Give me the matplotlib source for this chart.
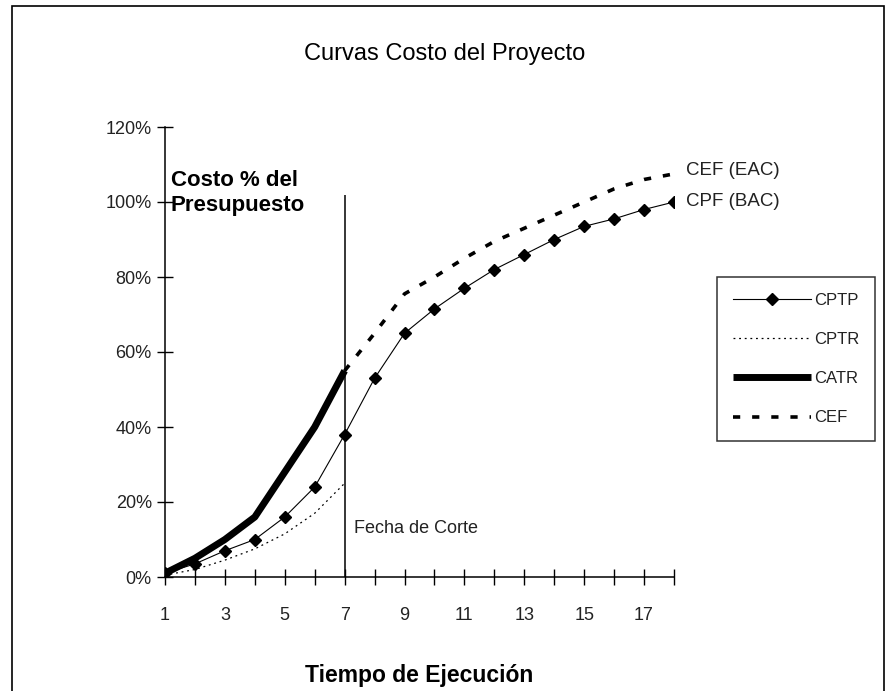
import matplotlib
matplotlib.use("Agg")
import matplotlib.pyplot as plt
from matplotlib.patches import Rectangle

plt.rcParams['font.family'] = ['Liberation Sans', 'DejaVu Sans']

# ---- data ----
periods = list(range(1, 19))
cptp = [0.01, 0.035, 0.07, 0.10, 0.16, 0.24, 0.38, 0.53, 0.65, 0.715, 0.77, 0.82, 0.86, 0.90, 0.935, 0.955, 0.98, 1.00]
cptr_periods = list(range(1, 8))
cptr = [0.005, 0.02, 0.045, 0.075, 0.115, 0.17, 0.25]
catr_periods = list(range(1, 8))
catr = [0.01, 0.05, 0.10, 0.16, 0.28, 0.40, 0.55]
cef_periods = list(range(7, 19))
cef = [0.55, 0.65, 0.755, 0.80, 0.85, 0.895, 0.93, 0.965, 1.00, 1.035, 1.06, 1.075]
cutoff = 7
cutoff_top = 1.02
y_ticks = [0, 0.2, 0.4, 0.6, 0.8, 1.0, 1.2]
y_labels = ['0%', '20%', '40%', '60%', '80%', '100%', '120%']

W, H = 891, 691
fig = plt.figure(figsize=(W / 100, H / 100), dpi=100)
fig.patch.set_facecolor('white')

# chart area border
fig.add_artist(Rectangle((12 / W, -0.05), (884 - 12) / W, (H - 6) / H + 0.05,
                         transform=fig.transFigure, fill=False, edgecolor='black', linewidth=1.2))

ax = fig.add_axes([165 / W, (H - 577) / H, (674 - 165) / W, 450 / H])
ax.set_xlim(1, 18)
ax.set_ylim(0, 1.2)

ax.plot(periods, cptp, color='black', linewidth=0.8, marker='D', markersize=6, label='CPTP', zorder=4)
ax.plot(cptr_periods, cptr, color='black', linewidth=0.9, linestyle=(0, (1.5, 3)), label='CPTR', zorder=3)
ax.plot(catr_periods, catr, color='black', linewidth=5, solid_capstyle='butt', label='CATR', zorder=5)
ax.plot(cef_periods, cef, color='black', linewidth=2.6, linestyle=(0, (2, 3.3)), label='CEF', zorder=3)

ax.vlines(cutoff, 0, cutoff_top, color='black', linewidth=1.1, zorder=2)

ax.text(cutoff + 0.3, 0.13, 'Fecha de Corte', fontsize=13, va='center', ha='left', color='#222')
ax.text(1.2, 1.024, 'Costo % del\nPresupuesto', fontsize=16, fontweight='bold', va='center', ha='left',
        linespacing=1.3)

ax.text(periods[-1] + 0.4, cef[-1] + 0.01, 'CEF (EAC)', fontsize=13.5, va='center', ha='left', color='#222')
ax.text(periods[-1] + 0.4, cptp[-1], 'CPF (BAC)', fontsize=13.5, va='center', ha='left', color='#222')

for s in ['top', 'right']:
    ax.spines[s].set_visible(False)
for s in ['left', 'bottom']:
    ax.spines[s].set_linewidth(1.1)

ax.set_xticks(periods)
ax.set_xticklabels([str(p) if (p % 2 == 1) else '' for p in periods])
ax.set_yticks(y_ticks)
ax.set_yticklabels(y_labels)
ax.tick_params(axis='x', direction='inout', length=11, width=1, pad=16, labelsize=13, labelcolor='#222')
ax.tick_params(axis='y', direction='inout', length=11, width=1, pad=4, labelsize=13, labelcolor='#222')

ax.set_xlabel('Tiempo de Ejecución', fontsize=16.5, fontweight='bold', labelpad=29)

fig.text(445 / W, (H - 54) / H, 'Curvas Costo del Proyecto', fontsize=17, ha='center', va='center')

leg = ax.legend(loc='upper left', bbox_to_anchor=(717 / W, (H - 277) / H), bbox_transform=fig.transFigure,
                frameon=True, fancybox=False, edgecolor='black', fontsize=12, handlelength=4.7,
                handletextpad=0.15, labelspacing=1.45, borderpad=0.95, borderaxespad=0)
leg.get_frame().set_linewidth(1.1)
for t in leg.get_texts():
    t.set_color('#222')

fig.savefig('out.png', dpi=100, facecolor='white')
